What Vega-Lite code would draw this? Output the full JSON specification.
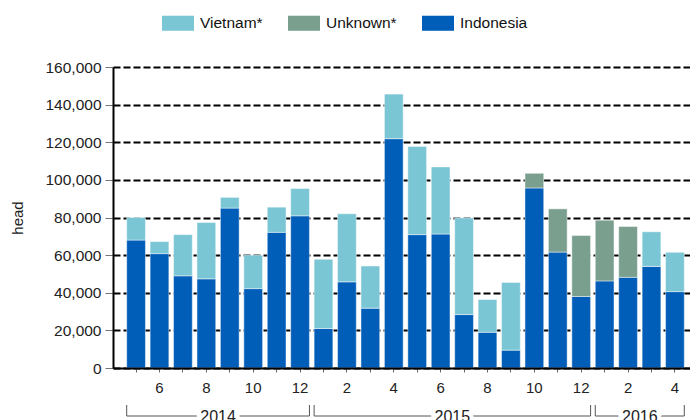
{
  "$schema": "https://vega.github.io/schema/vega-lite/v6.json",
  "autosize": "none",
  "width": 577,
  "height": 301,
  "padding": {"left": 113, "top": 67, "right": 0, "bottom": 52},
  "config": {
    "font": "Liberation Sans",
    "view": {"stroke": null},
    "axis": {"labelFont": "Liberation Sans", "titleFont": "Liberation Sans"},
    "legend": {"labelFont": "Liberation Sans"}
  },
  "datasets": {
    "imports": [
      {"month": "2014-05", "origin": "Indonesia", "head": 68000},
      {"month": "2014-05", "origin": "Vietnam*", "head": 12000},
      {"month": "2014-06", "origin": "Indonesia", "head": 60800},
      {"month": "2014-06", "origin": "Vietnam*", "head": 6400},
      {"month": "2014-07", "origin": "Indonesia", "head": 49000},
      {"month": "2014-07", "origin": "Vietnam*", "head": 21900},
      {"month": "2014-08", "origin": "Indonesia", "head": 47400},
      {"month": "2014-08", "origin": "Vietnam*", "head": 29900},
      {"month": "2014-09", "origin": "Indonesia", "head": 85000},
      {"month": "2014-09", "origin": "Vietnam*", "head": 5700},
      {"month": "2014-10", "origin": "Indonesia", "head": 42200},
      {"month": "2014-10", "origin": "Vietnam*", "head": 17800},
      {"month": "2014-11", "origin": "Indonesia", "head": 72100},
      {"month": "2014-11", "origin": "Vietnam*", "head": 13400},
      {"month": "2014-12", "origin": "Indonesia", "head": 80900},
      {"month": "2014-12", "origin": "Vietnam*", "head": 14500},
      {"month": "2015-01", "origin": "Indonesia", "head": 21000},
      {"month": "2015-01", "origin": "Vietnam*", "head": 36800},
      {"month": "2015-02", "origin": "Indonesia", "head": 45800},
      {"month": "2015-02", "origin": "Vietnam*", "head": 36200},
      {"month": "2015-03", "origin": "Indonesia", "head": 31800},
      {"month": "2015-03", "origin": "Vietnam*", "head": 22400},
      {"month": "2015-04", "origin": "Indonesia", "head": 121900},
      {"month": "2015-04", "origin": "Vietnam*", "head": 23700},
      {"month": "2015-05", "origin": "Indonesia", "head": 70900},
      {"month": "2015-05", "origin": "Vietnam*", "head": 46900},
      {"month": "2015-06", "origin": "Indonesia", "head": 71200},
      {"month": "2015-06", "origin": "Vietnam*", "head": 35700},
      {"month": "2015-07", "origin": "Indonesia", "head": 28400},
      {"month": "2015-07", "origin": "Vietnam*", "head": 51400},
      {"month": "2015-08", "origin": "Indonesia", "head": 19000},
      {"month": "2015-08", "origin": "Vietnam*", "head": 17400},
      {"month": "2015-09", "origin": "Indonesia", "head": 9500},
      {"month": "2015-09", "origin": "Vietnam*", "head": 36000},
      {"month": "2015-10", "origin": "Indonesia", "head": 95700},
      {"month": "2015-10", "origin": "Unknown*", "head": 7800},
      {"month": "2015-11", "origin": "Indonesia", "head": 61600},
      {"month": "2015-11", "origin": "Unknown*", "head": 23000},
      {"month": "2015-12", "origin": "Indonesia", "head": 38000},
      {"month": "2015-12", "origin": "Unknown*", "head": 32400},
      {"month": "2016-01", "origin": "Indonesia", "head": 46300},
      {"month": "2016-01", "origin": "Unknown*", "head": 32300},
      {"month": "2016-02", "origin": "Indonesia", "head": 48200},
      {"month": "2016-02", "origin": "Unknown*", "head": 27000},
      {"month": "2016-03", "origin": "Indonesia", "head": 54000},
      {"month": "2016-03", "origin": "Vietnam*", "head": 18400},
      {"month": "2016-04", "origin": "Indonesia", "head": 40600},
      {"month": "2016-04", "origin": "Vietnam*", "head": 20900}
    ],
    "years": [
      {"year": "2014", "start": "2014-05", "end": "2014-12", "mid": "2014-08"},
      {"year": "2015", "start": "2015-01", "end": "2015-12", "mid": "2015-06"},
      {"year": "2016", "start": "2016-01", "end": "2016-04", "mid": "2016-02"}
    ]
  },
  "layer": [
    {
      "data": {"name": "imports"},
      "mark": {"type": "bar", "stroke": "#ffffff", "strokeOpacity": 0.45, "strokeWidth": 1},
      "encoding": {
        "x": {
          "field": "month",
          "type": "ordinal",
          "scale": {"type": "band", "paddingInner": 0.2, "paddingOuter": 0.414, "align": 0.706},
          "axis": {
            "title": null,
            "zindex": 1,
            "domainColor": "#000000",
            "domainWidth": 2,
            "tickColor": "#666666",
            "tickSize": 4,
            "labelPadding": 8,
            "labelAngle": 0,
            "labelFontSize": 15,
            "labelColor": "#222222",
            "labelExpr": "toNumber(substring(datum.value,5,7)) % 2 == 0 ? '' + toNumber(substring(datum.value,5,7)) : ''"
          }
        },
        "y": {
          "field": "head",
          "type": "quantitative",
          "stack": "zero",
          "scale": {"domain": [0, 160000], "nice": false},
          "axis": {
            "title": "head",
            "titleFontSize": 15,
            "titleFontWeight": "normal",
            "titleColor": "#222222",
            "titlePadding": 19,
            "values": [0, 20000, 40000, 60000, 80000, 100000, 120000, 140000, 160000],
            "format": ",.0f",
            "labelFontSize": 15.5,
            "labelColor": "#222222",
            "labelPadding": 4,
            "tickSize": 8,
            "tickColor": "#777777",
            "domainColor": "#000000",
            "domainWidth": 2,
            "grid": true,
            "gridColor": "#000000",
            "gridWidth": 2,
            "gridDash": [7, 3],
            "gridOpacity": 1
          }
        },
        "color": {
          "field": "origin",
          "type": "nominal",
          "scale": {
            "domain": ["Vietnam*", "Unknown*", "Indonesia"],
            "range": ["#7BC6D5", "#7A9F8F", "#005EB8"]
          },
          "legend": {
            "title": null,
            "orient": "none",
            "direction": "horizontal",
            "legendX": 49,
            "legendY": -60,
            "padding": 0,
            "symbolType": "M-1,-0.47L1,-0.47L1,0.47L-1,0.47Z",
            "symbolSize": 1024,
            "symbolStrokeWidth": 0,
            "symbolOpacity": 1,
            "labelFontSize": 15.5,
            "labelColor": "#111111",
            "labelOffset": 6,
            "columnPadding": 25
          }
        },
        "order": {"field": "origin", "sort": "ascending"}
      }
    },
    {
      "data": {"name": "years"},
      "mark": {"type": "rule", "color": "#555555", "strokeWidth": 1},
      "encoding": {
        "x": {"field": "start", "type": "ordinal", "bandPosition": 0},
        "x2": {"field": "end", "bandPosition": 1},
        "y": {"value": {"expr": "height + 48"}}
      }
    },
    {
      "data": {"name": "years"},
      "mark": {"type": "rule", "color": "#555555", "strokeWidth": 1},
      "encoding": {
        "x": {"field": "start", "type": "ordinal", "bandPosition": 0},
        "y": {"value": {"expr": "height + 37"}},
        "y2": {"value": {"expr": "height + 48"}}
      }
    },
    {
      "data": {"name": "years"},
      "mark": {"type": "rule", "color": "#555555", "strokeWidth": 1},
      "encoding": {
        "x": {"field": "end", "type": "ordinal", "bandPosition": 1},
        "y": {"value": {"expr": "height + 37"}},
        "y2": {"value": {"expr": "height + 48"}}
      }
    },
    {
      "data": {"name": "years"},
      "mark": {"type": "text", "fontSize": 16, "baseline": "middle", "align": "center", "fill": "#ffffff", "stroke": "#ffffff", "strokeWidth": 8},
      "encoding": {
        "x": {"field": "mid", "type": "ordinal", "bandPosition": 1.125},
        "y": {"value": {"expr": "height + 49"}},
        "text": {"field": "year"}
      }
    },
    {
      "data": {"name": "years"},
      "mark": {"type": "text", "fontSize": 16, "baseline": "middle", "align": "center", "fill": "#222222"},
      "encoding": {
        "x": {"field": "mid", "type": "ordinal", "bandPosition": 1.125},
        "y": {"value": {"expr": "height + 49"}},
        "text": {"field": "year"}
      }
    }
  ]
}
